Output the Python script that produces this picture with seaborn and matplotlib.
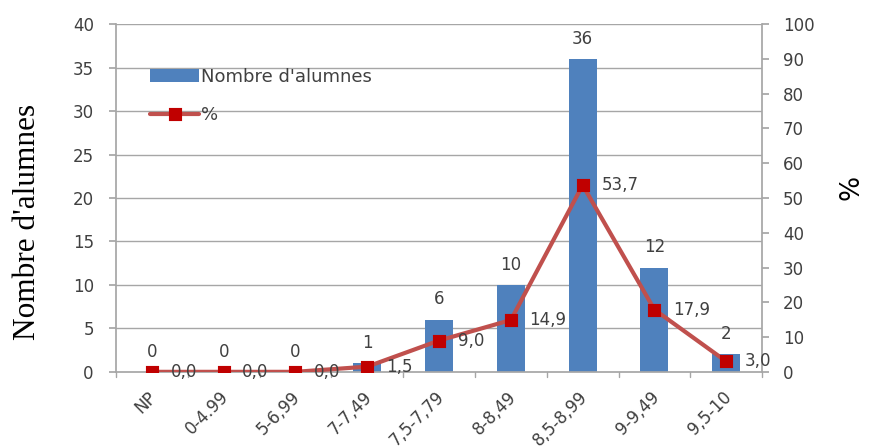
import matplotlib
matplotlib.use("Agg")
import matplotlib.pyplot as plt
import matplotlib.transforms as mtransforms
import seaborn as sns
import pandas as pd
import numpy as np

categories = ["NP", "0-4.99", "5-6,99", "7-7,49", "7,5-7,79", "8-8,49", "8,5-8,99", "9-9,49", "9,5-10"]
counts = [0, 0, 0, 1, 6, 10, 36, 12, 2]
percent = [0.0, 0.0, 0.0, 1.5, 9.0, 14.9, 53.7, 17.9, 3.0]
left_ticks = [0, 5, 10, 15, 20, 25, 30, 35, 40]
right_ticks = [0, 10, 20, 30, 40, 50, 60, 70, 80, 90, 100]

df = pd.DataFrame({"cat": categories, "n": counts, "pct": percent})

sns.set_theme(style="white")
plt.rcParams['font.family'] = ['DejaVu Sans']

fig = plt.figure(figsize=(8.69, 4.48), dpi=100)
ax = fig.add_axes([0.1335, 0.170, 0.7435, 0.776])
ax2 = ax.twinx()

bar_color = "#4F81BD"
line_color = "#C0504D"
mark_color = "#C00000"
grid_color = "#a6a6a6"
txt = "#404040"
fs = 12

sns.barplot(data=df, x="cat", y="n", ax=ax, color=bar_color, width=0.39,
            saturation=1, label="Nombre d'alumnes", zorder=2, linewidth=0)
sns.pointplot(data=df, x="cat", y="pct", ax=ax2, color=line_color, markers="s",
              linestyles="-", label="%", markersize=7.5, linewidth=3,
              markerfacecolor=mark_color, markeredgecolor=mark_color)

ax.set_xlim(-0.5, len(categories) - 0.5)
ax.set_ylim(0, 40)
ax2.set_ylim(0, 100)
ax.set_yticks(left_ticks)
ax2.set_yticks(right_ticks)

for y in left_ticks[1:]:
    ax.axhline(y, color=grid_color, lw=1, zorder=0)

for a in (ax, ax2):
    for s in a.spines.values():
        s.set_visible(False)
ax.spines["left"].set_visible(True)
ax.spines["left"].set_color(grid_color)
ax.spines["bottom"].set_visible(True)
ax.spines["bottom"].set_color(grid_color)
ax2.spines["right"].set_visible(True)
ax2.spines["right"].set_color(grid_color)

ax.tick_params(axis="y", direction="out", length=5, color=grid_color, left=True,
               labelsize=fs, labelcolor=txt, pad=11)
ax2.tick_params(axis="y", direction="out", length=5, color=grid_color, right=True,
                labelsize=fs, labelcolor=txt, pad=10)
ax.set_xticks(np.arange(len(categories)))
ax.set_xticklabels(categories, rotation=45, ha="right", rotation_mode="anchor",
                   fontsize=fs, color=txt)
ax.tick_params(axis="x", length=0, pad=10)
offset = mtransforms.ScaledTranslation(-4 / 100, -2 / 100, fig.dpi_scale_trans)
for lab in ax.get_xticklabels():
    lab.set_transform(lab.get_transform() + offset)
for b in np.arange(len(categories) + 1) - 0.5:
    ax.plot([b, b], [0, -0.6], color=grid_color, lw=1, clip_on=False, zorder=1)

ax.set_xlabel("")
ax.set_ylabel("Nombre d'alumnes", family="Liberation Serif", fontsize=22.5, color="black")
ax.yaxis.set_label_coords(-0.115, 0.43)
ax2.set_ylabel("%", fontsize=19, color="black")
ax2.yaxis.set_label_coords(1.118, 0.53)

for i, v in enumerate(counts):
    ax.text(i, v + 1.3, f"{v}", ha="center", va="bottom", fontsize=fs, color=txt)
for i, v in enumerate(percent):
    ax2.text(i + 0.26, v, f"{v:.1f}".replace(".", ","), ha="left", va="center",
             fontsize=fs, color=txt)

ax2.set_zorder(ax.get_zorder() + 1)
ax2.patch.set_visible(False)

h1, l1 = ax.get_legend_handles_labels()
h2, l2 = ax2.get_legend_handles_labels()
if ax2.get_legend():
    ax2.get_legend().remove()
leg = ax.legend(h1 + h2, l1 + l2, loc="upper left", bbox_to_anchor=(0.053, 0.875),
                frameon=False, fontsize=13, labelspacing=1.15, handlelength=2.7,
                handleheight=0.7, handletextpad=0.1, borderaxespad=0, borderpad=0)
for t in leg.get_texts():
    t.set_color(txt)

fig.savefig("out.png", dpi=100)
